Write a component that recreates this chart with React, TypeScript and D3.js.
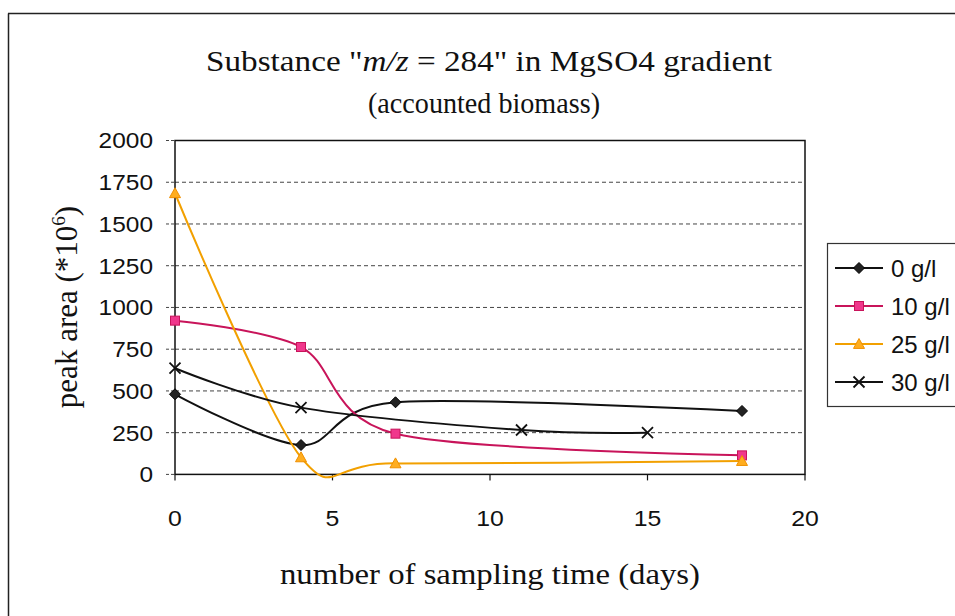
import React from "react";
import * as d3 from "d3";

const days0 = [0, 4, 7, 18];
const vals0 = [480, 176, 432, 380];
const days10 = [0, 4, 7, 18];
const vals10 = [921, 763, 244, 114];
const days25 = [0, 4, 7, 18];
const vals25 = [1684, 102, 66, 80];
const days30 = [0, 4, 11, 15];
const vals30 = [636, 400, 266, 250];

const seriesNames = ["0 g/l", "10 g/l", "25 g/l", "30 g/l"];
const yTicks = [0, 250, 500, 750, 1000, 1250, 1500, 1750, 2000];
const xTicks = [0, 5, 10, 15, 20];

const W = 955;
const H = 616;
const serif = "'Liberation Serif', 'Times New Roman', serif";
const sans = "'Liberation Sans', Arial, sans-serif";

type Sty = { line: string; fill: string; stroke: string; marker: string };
const styles: Sty[] = [
  { line: "#111", fill: "#222", stroke: "#000", marker: "diamond" },
  { line: "#c8145a", fill: "#f0378c", stroke: "#c8145a", marker: "square" },
  { line: "#f2a000", fill: "#ffad1f", stroke: "#f09000", marker: "triangle" },
  { line: "#111", fill: "none", stroke: "#111", marker: "cross" },
];

function Marker({ x, y, s }: { x: number; y: number; s: Sty }) {
  if (s.marker === "diamond") {
    const r = 5.5;
    return <path d={`M${x},${y - r}L${x + r},${y}L${x},${y + r}L${x - r},${y}Z`} fill={s.fill} stroke={s.stroke} strokeWidth={1} />;
  }
  if (s.marker === "square") {
    const r = 4.5;
    return <rect x={x - r} y={y - r} width={2 * r} height={2 * r} fill={s.fill} stroke={s.stroke} strokeWidth={1} />;
  }
  if (s.marker === "triangle") {
    const r = 5.5;
    return <path d={`M${x},${y - r}L${x + r},${y + r * 0.8}L${x - r},${y + r * 0.8}Z`} fill={s.fill} stroke={s.stroke} strokeWidth={1} />;
  }
  const r = 5.5;
  return <path d={`M${x - r},${y - r}L${x + r},${y + r}M${x - r},${y + r}L${x + r},${y - r}`} stroke={s.stroke} strokeWidth={1.8} fill="none" />;
}

export default function App() {
  const x = d3.scaleLinear().domain([0, 20]).range([175, 805]);
  const y = d3.scaleLinear().domain([0, 2000]).range([474.4, 140.5]);
  const line = d3
    .line<[number, number]>()
    .x((d) => x(d[0]))
    .y((d) => y(d[1]))
    .curve(d3.curveCardinal.tension(0.08));

  const series: [number, number][][] = [
    days0.map((d, i) => [d, vals0[i]]),
    days10.map((d, i) => [d, vals10[i]]),
    days25.map((d, i) => [d, vals25[i]]),
    days30.map((d, i) => [d, vals30[i]]),
  ];
  const legendY = [268, 306, 344, 382];

  return (
    <svg width={W} height={H} style={{ position: "absolute", left: 0, top: 0, background: "#fff" }}>
      <rect x={0} y={0} width={W} height={H} fill="#fff" />
      {/* outer frame */}
      <line x1={8.5} y1={13.5} x2={8.5} y2={H} stroke="#222" strokeWidth={1.5} />
      <line x1={8} y1={13.5} x2={W} y2={13.5} stroke="#222" strokeWidth={1.5} />

      {/* title */}
      <text x={489} y={71} textAnchor="middle" fontFamily={serif} fontSize={29} fill="#111" textLength={566} lengthAdjust="spacingAndGlyphs">
        Substance "<tspan fontStyle="italic">m/z</tspan> = 284" in MgSO4 gradient
      </text>
      <text x={484} y={113} textAnchor="middle" fontFamily={serif} fontSize={29} fill="#111" textLength={232} lengthAdjust="spacingAndGlyphs">
        (accounted biomass)
      </text>

      {/* gridlines */}
      {yTicks.filter((t) => t > 0 && t < 2000).map((t) => (
        <line key={t} x1={x(0)} x2={x(20)} y1={y(t)} y2={y(t)} stroke="#444" strokeWidth={1} strokeDasharray="4,3" />
      ))}
      {/* plot border */}
      <rect x={x(0)} y={y(2000)} width={x(20) - x(0)} height={y(0) - y(2000)} fill="none" stroke="#111" strokeWidth={1.5} />
      {/* y ticks */}
      {yTicks.map((t) => (
        <g key={t}>
          <line x1={166} x2={x(0)} y1={y(t)} y2={y(t)} stroke="#444" strokeWidth={1} strokeDasharray="3,2" />
          <text x={153} y={y(t)} dy="0.36em" textAnchor="end" fontFamily={sans} fontSize={22} fill="#111"
            textLength={String(t).length * 13.6} lengthAdjust="spacingAndGlyphs">
            {t}
          </text>
        </g>
      ))}
      {/* x ticks */}
      {xTicks.map((t) => (
        <g key={t}>
          <line x1={x(t)} x2={x(t)} y1={y(0)} y2={y(0) + 6} stroke="#111" strokeWidth={1.2} />
          <text x={x(t)} y={526} textAnchor="middle" fontFamily={sans} fontSize={22} fill="#111"
            textLength={String(t).length * 13.8} lengthAdjust="spacingAndGlyphs">
            {t}
          </text>
        </g>
      ))}

      {/* axis titles */}
      <text x={490} y={584} textAnchor="middle" fontFamily={serif} fontSize={29} fill="#111" textLength={420} lengthAdjust="spacingAndGlyphs">
        number of sampling time (days)
      </text>
      <text transform="translate(77,307) rotate(-90)" textAnchor="middle" fontFamily={serif} fontSize={31} fill="#111">
        peak area (*10<tspan dy={-12} fontSize={19}>6</tspan><tspan dy={12}>)</tspan>
      </text>

      {/* series */}
      {series.map((s, i) => (
        <g key={i}>
          <path d={line(s) || ""} fill="none" stroke={styles[i].line} strokeWidth={2} />
          {s.map((p, j) => (
            <Marker key={j} x={x(p[0])} y={y(p[1])} s={styles[i]} />
          ))}
        </g>
      ))}

      {/* legend */}
      <rect x={827.5} y={243.5} width={140} height={163} fill="#fff" stroke="#333" strokeWidth={1.2} />
      {seriesNames.map((n, i) => (
        <g key={n}>
          <line x1={835} x2={883} y1={legendY[i]} y2={legendY[i]} stroke={styles[i].line} strokeWidth={2} />
          <Marker x={859} y={legendY[i]} s={styles[i]} />
          <text x={891} y={legendY[i]} dy="0.36em" fontFamily={sans} fontSize={24} fill="#111">
            {n}
          </text>
        </g>
      ))}
    </svg>
  );
}
